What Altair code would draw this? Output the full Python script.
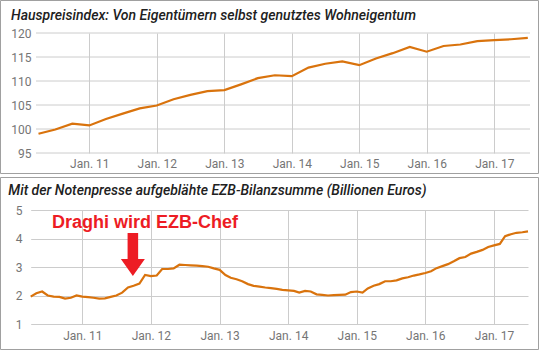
import altair as alt
import pandas as pd

# ---------------- data ----------------
hpi_title = "Hauspreisindex: Von Eigentümern selbst genutztes Wohneigentum"
ecb_title = "Mit der Notenpresse aufgeblähte EZB-Bilanzsumme (Billionen Euros)"

hpi_start = "2010-04-01"   # quarterly
hpi_values = [99.0, 99.9, 101.1, 100.75, 102.1, 103.2, 104.3, 104.9, 106.2, 107.1,
              107.9, 108.1, 109.3, 110.6, 111.2, 111.0, 112.8, 113.6, 114.1, 113.3,
              114.7, 115.8, 117.1, 116.1, 117.3, 117.6, 118.3, 118.5, 118.7, 119.0]

ecb_start = "2010-04-01"   # monthly
ecb_values = [1.96, 2.08, 2.14, 2.00, 1.96, 1.95, 1.89, 1.92, 2.00, 1.96,
              1.94, 1.92, 1.89, 1.90, 1.95, 2.00, 2.10, 2.28, 2.34, 2.42,
              2.72, 2.68, 2.70, 2.93, 2.93, 2.95, 3.08, 3.07, 3.06, 3.05,
              3.03, 3.01, 2.95, 2.90, 2.72, 2.62, 2.57, 2.50, 2.40, 2.34,
              2.31, 2.28, 2.26, 2.23, 2.20, 2.18, 2.16, 2.10, 2.16, 2.14,
              2.04, 2.02, 2.00, 2.01, 2.02, 2.03, 2.12, 2.14, 2.10, 2.25,
              2.34, 2.40, 2.50, 2.50, 2.53, 2.60, 2.64, 2.70, 2.74, 2.79,
              2.85, 2.96, 3.03, 3.10, 3.20, 3.31, 3.35, 3.47, 3.53, 3.60,
              3.70, 3.76, 3.81, 4.08, 4.15, 4.20, 4.22, 4.25]

year_ticks = [2011, 2012, 2013, 2014, 2015, 2016, 2017]
hpi_ticks = [95, 100, 105, 110, 115, 120]
ecb_ticks = [1, 2, 3, 4, 5]

annotation_text = "Draghi wird EZB-Chef"
annotation_text_date = "2011-11-30"
annotation_text_value = 4.56
arrow_date = "2011-09-27"
arrow_value = 3.44

# ---------------- style ----------------
LINE = "#d9730d"
GRID = "#cccccc"
LABEL = "#757575"
RED = "#ed1c24"
FRAME = "#a0a0a0"
TITLE = "#212121"
FONT = "Roboto"

hpi_df = pd.DataFrame({"date": pd.date_range(hpi_start, periods=len(hpi_values), freq="QS"),
                       "value": hpi_values})
ecb_df = pd.DataFrame({"date": pd.date_range(ecb_start, periods=len(ecb_values), freq="MS"),
                       "value": ecb_values})
hpi_grid_df = pd.DataFrame({"value": hpi_ticks})
one = pd.DataFrame({"k": [0]})
ann_df = pd.DataFrame({"date": pd.to_datetime([annotation_text_date]), "value": [annotation_text_value]})
arrow_df = pd.DataFrame({"date": pd.to_datetime([arrow_date]), "value": [arrow_value]})

dom = [alt.DateTime(year=2010, month=4, date=1), alt.DateTime(year=2017, month=7, date=1)]
xvals = [alt.DateTime(year=y, month=1, date=1) for y in year_ticks]


def xaxis(pad):
    return alt.Axis(values=xvals, labelExpr="'Jan. ' + timeFormat(datum.value, '%y')",
                    grid=True, gridColor=GRID, gridWidth=1, domain=False, ticks=False,
                    labelPadding=pad, labelFont=FONT, labelFontSize=12, labelColor=LABEL,
                    title=None, labelFlush=False, labelOverlap=False)


W = 500

# ---------------- top panel ----------------
top_x = alt.X("date:T", scale=alt.Scale(domain=dom, range=[8.5, 497.8]), axis=xaxis(5))
top_y = alt.Y("value:Q", scale=alt.Scale(domain=[95, 120], nice=False, zero=False),
              axis=alt.Axis(values=hpi_ticks, grid=False, domain=False, ticks=False, offset=-6,
                            labelPadding=5, labelFont=FONT, labelFontSize=12, labelColor=LABEL,
                            title=None))

top_frame = alt.Chart(one).mark_rect(fillOpacity=0, stroke=FRAME, strokeWidth=1).encode(
    x=alt.value(-29.5), x2=alt.value(508.5), y=alt.value(-32.5), y2=alt.value(140.5))
top_grid = alt.Chart(hpi_grid_df).mark_rule(color=GRID, strokeWidth=1).encode(
    y=top_y, x=alt.value(6), x2=alt.value(W))
top_line = alt.Chart(hpi_df).mark_line(color=LINE, strokeWidth=2.2).encode(x=top_x, y=top_y)
top_title = alt.Chart(one).mark_text(text=hpi_title, align="left", baseline="alphabetic",
                                     font=FONT, fontSize=14, fontStyle="italic", fontWeight=500,
                                     color=TITLE).encode(x=alt.value(-19), y=alt.value(-12.7))

top = alt.layer(top_frame, top_grid, top_line, top_title).properties(width=W, height=120)

# ---------------- bottom panel ----------------
bot_x = alt.X("date:T", scale=alt.Scale(domain=dom, range=[0.7, 498]), axis=xaxis(6))
bot_y = alt.Y("value:Q", scale=alt.Scale(domain=[1, 5], nice=False, zero=False),
              axis=alt.Axis(values=ecb_ticks, grid=True, gridColor=GRID, domain=False, ticks=False,
                            labelPadding=8, labelFont=FONT, labelFontSize=12, labelColor=LABEL,
                            title=None))

bot_frame = alt.Chart(one).mark_rect(fillOpacity=0, stroke=FRAME, strokeWidth=1).encode(
    x=alt.value(-29.5), x2=alt.value(508.5), y=alt.value(-32.5), y2=alt.value(139.5))
bot_line = alt.Chart(ecb_df).mark_line(color=LINE, strokeWidth=2.2).encode(x=bot_x, y=bot_y)
bot_title = alt.Chart(one).mark_text(text=ecb_title, align="left", baseline="alphabetic",
                                     font=FONT, fontSize=14, fontStyle="italic", fontWeight=500,
                                     color=TITLE).encode(x=alt.value(-21.7), y=alt.value(-15))
ann_text = alt.Chart(ann_df).mark_text(text=annotation_text, align="center", baseline="middle",
                                       font="Liberation Sans", fontSize=18, fontWeight="bold",
                                       color=RED).encode(x=bot_x, y=bot_y)
arrow_path = "M-0.44,-1.79L0.44,-1.79L0.44,0.375L1,0.375L0,1.79L-1,0.375L-0.44,0.375Z"
ann_arrow = alt.Chart(arrow_df).mark_point(shape=arrow_path, size=576, filled=True,
                                           color=RED, fillOpacity=1, opacity=1,
                                           strokeWidth=0).encode(x=bot_x, y=bot_y)

bottom = alt.layer(bot_frame, bot_line, bot_title, ann_text, ann_arrow).properties(width=W, height=114)

chart = alt.vconcat(top, bottom, spacing=3).properties(padding=0).configure_view(strokeWidth=0)

chart.save("out.html", embed_options={"renderer": "svg", "actions": False})
